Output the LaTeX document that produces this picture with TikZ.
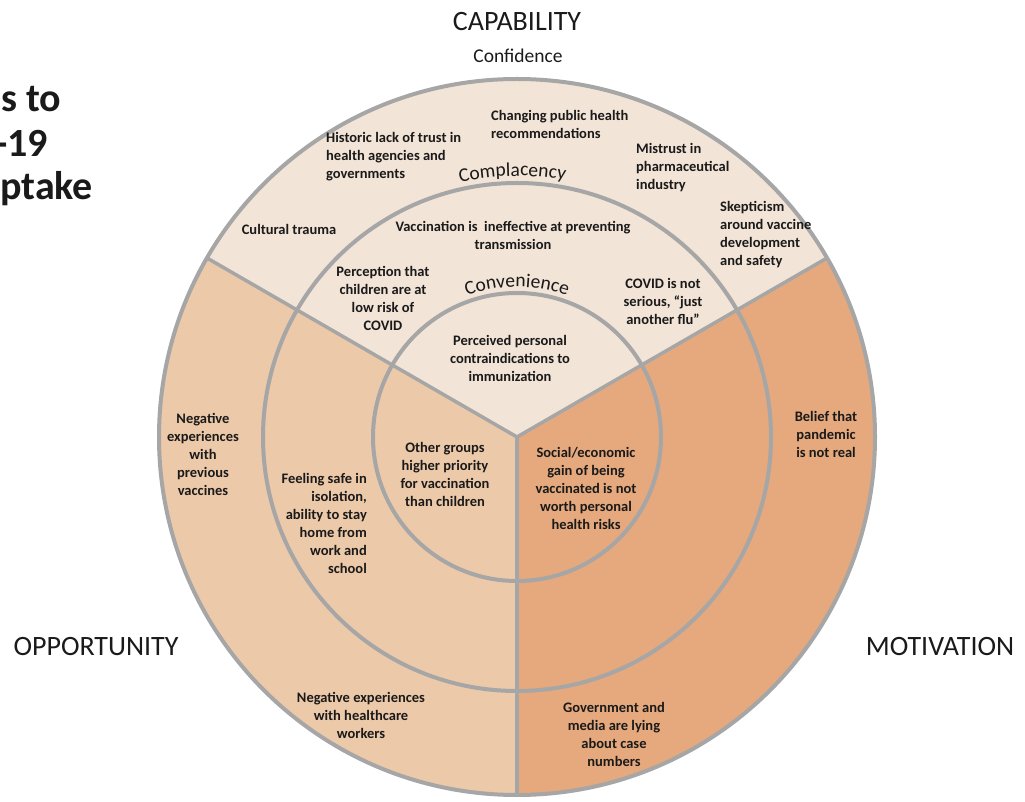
\documentclass[tikz,border=0pt]{standalone}
\usepackage{fontspec}
\setmainfont{Carlito}
\usepackage{xcolor}
\usepackage{tikz}
\usetikzlibrary{decorations.text}
\definecolor{capTan}{HTML}{F2E4D6}
\definecolor{oppTan}{HTML}{ECC9A9}
\definecolor{motTan}{HTML}{E5A97D}
\definecolor{ringGrey}{HTML}{A6A6A6}
\definecolor{inkDark}{HTML}{1A1A1A}
\tikzset{
  barrier/.style={font=\fontsize{14.5}{18}\selectfont\bfseries, text=inkDark, align=center, inner sep=0pt},
  domainlabel/.style={font=\fontsize{28}{32}\selectfont, text=inkDark, inner sep=0pt},
  ringlabel/.style={font=\fontsize{19.5}{22}\selectfont, text=inkDark, inner sep=0pt},
  titlefrag/.style={font=\fontsize{40}{45}\selectfont\bfseries, text=inkDark, anchor=base west, inner sep=0pt},
  ringline/.style={draw=ringGrey, line width=4pt},
  spoke/.style={draw=ringGrey, line width=3.5pt},
  % --- text bent round a ring ---
  arctext/.style={decorate, decoration={text along path, text align=center, text={|\color{inkDark}\fontsize{19.5}{22}\selectfont|#1}}},
}

\begin{document}
\begin{tikzpicture}[x=1pt,y=1pt]
  \useasboundingbox (0,0) rectangle (1025,801);
  \clip (0,0) rectangle (1025,801);
  \coordinate (ctr) at (517,364);

  % three wedges, then rings and spokes on top
  \foreach \a/\c in {30/capTan,150/oppTan,270/motTan} {
    \fill[\c] (ctr) -- ++(\a:358) arc[start angle=\a, end angle=\a+120, radius=358] -- cycle;
  }
  \foreach \r in {144,254,358} { \draw[ringline] (ctr) circle[radius=\r]; }
  \foreach \a in {30,150,270} { \draw[spoke] (ctr) -- ++(\a:358); }

  % cut-off title on the left
  \node[titlefrag] (ttla) at (1,689) {s to};
  \node[titlefrag] (ttlb) at (-5,644) {-19};
  \node[titlefrag] (ttlc) at (0,601) {ptake};

  \node[domainlabel] (cap) at (517,779) {CAPABILITY};
  \node[domainlabel] (opp) at (96,154) {OPPORTUNITY};
  \node[domainlabel] (mot) at (940,154) {MOTIVATION};

  \node[ringlabel] (conf) at (518,745) {Confidence};
  \path[arctext=Complacency] (ctr) ++(116:261) arc[start angle=116, end angle=66, radius=261];
  \path[arctext=Convenience] (ctr) ++(125:150) arc[start angle=125, end angle=55, radius=150];

  % --- capability ---
  \node[barrier, align=left, anchor=west] (trust) at (326,644) {Historic lack of trust in\\health agencies and\\governments};
  \node[barrier, align=left, anchor=west] (recs) at (491,677) {Changing public health\\recommendations};
  \node[barrier, align=left, anchor=west] (pharma) at (636,633) {Mistrust in\\pharmaceutical\\industry};
  \node[barrier, align=left, anchor=west] (skep) at (720,566) {Skepticism\\around vaccine\\development\\and safety};
  \node[barrier] (trauma) at (289,572) {Cultural trauma};
  \node[barrier] (ineff) at (513,566) {Vaccination is\ \ ineffective at preventing\\transmission};
  \node[barrier] (lowrisk) at (383,503) {Perception that\\children are at\\low risk of\\COVID};
  \node[barrier] (flu) at (663,500) {COVID is not\\serious, “just\\another flu”};
  \node[barrier] (contra) at (510,443) {Perceived personal\\contraindications to\\immunization};

  % --- opportunity ---
  \node[barrier] (prevvax) at (203,347) {Negative\\experiences\\with\\previous\\vaccines};
  \node[barrier, align=right, anchor=east] (isol) at (367,278) {Feeling safe in\\isolation,\\ability to stay\\home from\\work and\\school};
  \node[barrier] (priority) at (445,327) {Other groups\\higher priority\\for vaccination\\than children};
  \node[barrier] (hcw) at (361,86) {Negative experiences\\with healthcare\\workers};

  % --- motivation ---
  \node[barrier] (gain) at (586,313) {Social/economic\\gain of being\\vaccinated is not\\worth personal\\health risks};
  \node[barrier] (notreal) at (826,367) {Belief that\\pandemic\\is not real};
  \node[barrier] (lying) at (614,67) {Government and\\media are lying\\about case\\numbers};
\end{tikzpicture}
\end{document}
